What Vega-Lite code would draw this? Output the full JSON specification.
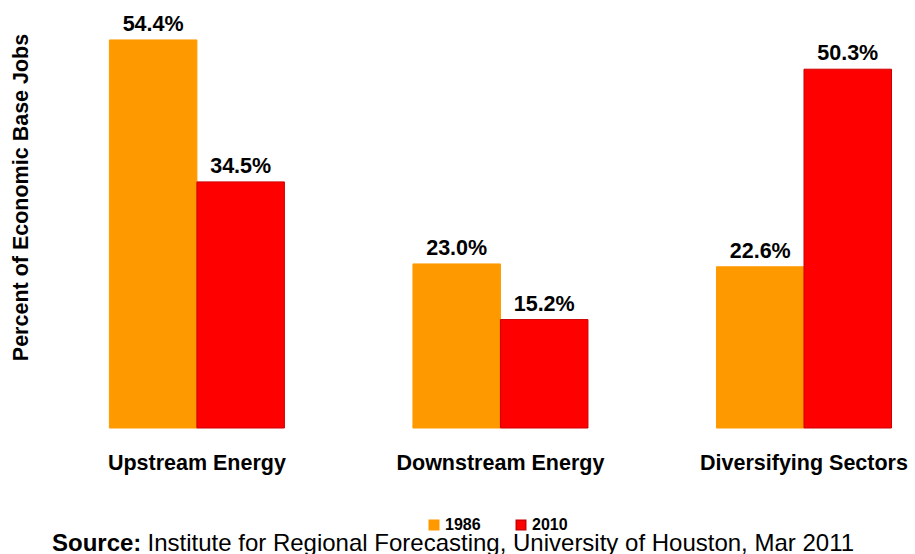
{
  "$schema": "https://vega.github.io/schema/vega-lite/v6.json",
  "autosize": {"type": "none"},
  "width": 875,
  "height": 428,
  "padding": {"left": 40, "top": 0, "right": 0, "bottom": 126},
  "background": "white",
  "config": {"view": {"stroke": null}, "font": "Liberation Sans"},
  "title": {
    "text": "Source:",
    "orient": "bottom",
    "anchor": "start",
    "frame": "group",
    "font": "Liberation Sans",
    "fontSize": 24,
    "fontWeight": "bold",
    "color": "black",
    "dx": 12,
    "dy": -4,
    "offset": 0,
    "baseline": "alphabetic"
  },
  "data": {
    "values": [
      {"sector": "Upstream Energy", "year": "1986", "value": 54.4},
      {"sector": "Upstream Energy", "year": "2010", "value": 34.5},
      {"sector": "Downstream Energy", "year": "1986", "value": 23.0},
      {"sector": "Downstream Energy", "year": "2010", "value": 15.2},
      {"sector": "Diversifying Sectors", "year": "1986", "value": 22.6},
      {"sector": "Diversifying Sectors", "year": "2010", "value": 50.3}
    ]
  },
  "transform": [
    {"calculate": "format(datum.value, '.1f') + '%'", "as": "label"}
  ],
  "encoding": {
    "x": {
      "field": "sector",
      "type": "nominal",
      "sort": ["Upstream Energy", "Downstream Energy", "Diversifying Sectors"],
      "scale": {"paddingInner": 0.4234, "paddingOuter": 0.153, "align": 0.747},
      "axis": {
        "title": "Institute for Regional Forecasting, University of Houston, Mar 2011",
        "titleFont": "Liberation Sans",
        "titleFontSize": 24,
        "titleFontWeight": "normal",
        "titleColor": "black",
        "titleX": 107,
        "titleY": 122,
        "titleAlign": "left",
        "titleAnchor": null,
        "titleBaseline": "alphabetic",
        "titleLimit": 0,
        "labelAngle": 0,
        "labelFont": "Liberation Sans",
        "labelFontSize": 21.5,
        "labelFontWeight": "bold",
        "labelColor": "black",
        "labelBaseline": "alphabetic",
        "labelPadding": 41,
        "labelLimit": 0,
        "domain": false,
        "ticks": false
      }
    },
    "xOffset": {
      "field": "year",
      "type": "nominal",
      "scale": {"paddingInner": 0, "paddingOuter": 0}
    },
    "y": {
      "field": "value",
      "type": "quantitative",
      "scale": {"domain": [0, 60], "nice": false},
      "axis": {
        "title": "Percent of Economic Base Jobs",
        "titleFont": "Liberation Sans",
        "titleFontSize": 21.5,
        "titleFontWeight": "bold",
        "titleColor": "black",
        "titleX": -13,
        "titleY": 197,
        "titleBaseline": "alphabetic",
        "titleLimit": 0,
        "labels": false,
        "ticks": false,
        "domain": false,
        "grid": false
      }
    }
  },
  "layer": [
    {
      "mark": {"type": "bar", "strokeWidth": 1},
      "encoding": {
        "color": {
          "field": "year",
          "type": "nominal",
          "scale": {"domain": ["1986", "2010"], "range": ["#FF9900", "#FF0000"]},
          "legend": {
            "title": null,
            "orient": "none",
            "direction": "horizontal",
            "legendX": 386,
            "legendY": 517,
            "symbolType": "square",
            "symbolSize": 90,
            "symbolOpacity": 1,
            "labelFont": "Liberation Sans",
            "labelFontSize": 16,
            "labelFontWeight": "bold",
            "labelColor": "black",
            "labelOffset": 3,
            "columnPadding": 32
          }
        },
        "stroke": {
          "field": "year",
          "type": "nominal",
          "scale": {"domain": ["1986", "2010"], "range": ["#FF9900", "#CC0000"]},
          "legend": null
        }
      }
    },
    {
      "mark": {
        "type": "text",
        "baseline": "alphabetic",
        "dy": -9,
        "font": "Liberation Sans",
        "fontSize": 21.5,
        "fontWeight": "bold",
        "color": "black"
      },
      "encoding": {
        "text": {"field": "label", "type": "nominal"}
      }
    }
  ]
}
